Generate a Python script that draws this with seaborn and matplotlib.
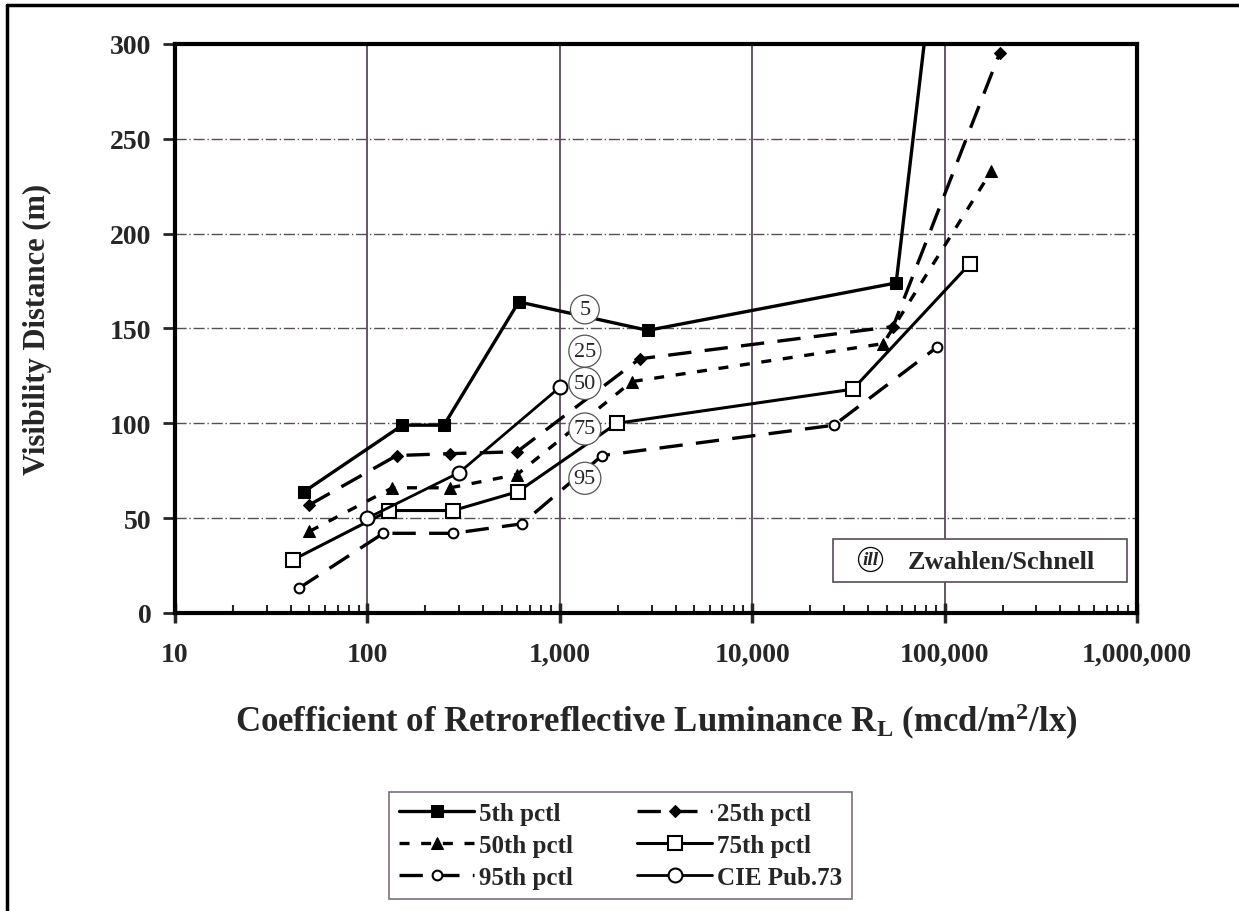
import numpy as np
import pandas as pd
import seaborn as sns
import matplotlib.pyplot as plt
from matplotlib.patches import Rectangle
from matplotlib.lines import Line2D
from matplotlib.ticker import FixedLocator, LogLocator, NullFormatter

# values
rl_5 = [47, 152, 250, 612, 2870, 56000, 83000]
vd_5 = [64, 99, 99, 164, 149, 174, 322]
rl_25 = [50, 142, 270, 600, 2600, 54000, 193000]
vd_25 = [57, 83, 84, 85, 134, 151, 295]
rl_50 = [50, 135, 270, 600, 2370, 48000, 175000]
vd_50 = [43, 66, 66, 73, 122, 142, 233]
rl_75 = [41, 130, 279, 607, 1980, 33400, 135000]
vd_75 = [28, 54, 54, 64, 100, 118, 184]
rl_95 = [44, 121, 279, 635, 1660, 26600, 91000]
vd_95 = [13, 42, 42, 47, 83, 99, 140]
rl_cie = [100, 300, 1000]
vd_cie = [50, 74, 119]

labels = ['5th pctl', '25th pctl', '50th pctl', '75th pctl', '95th pctl', 'CIE Pub.73']
tag_text = ['5', '25', '50', '75', '95']
tag_y = [160, 138, 121, 97, 71]
tag_x = 1350

xticks = [10, 100, 1000, 10000, 100000, 1000000]
xtick_labels = ['10', '100', '1,000', '10,000', '100,000', '1,000,000']
yticks = [0, 50, 100, 150, 200, 250, 300]

sns.set_style('white')
plt.rcParams['font.family'] = ['Liberation Serif', 'DejaVu Serif']
plt.rcParams['font.weight'] = 'bold'
plt.rcParams['mathtext.fontset'] = 'custom'
plt.rcParams['mathtext.rm'] = 'Liberation Serif:bold'
plt.rcParams['mathtext.bf'] = 'Liberation Serif:bold'
plt.rcParams['mathtext.it'] = 'Liberation Serif:bold'

fig = plt.figure(figsize=(12.39, 9.12), dpi=100)
ax = fig.add_axes([0.1412, 0.3268, 0.7765, 0.6239])

styles = [
    dict(marker='s', ms=9, mfc='black', mec='black', linestyle='-', lw=2.4),
    dict(marker='D', ms=6, mfc='black', mec='black', linestyle=(0, (7, 4)), lw=2.4),
    dict(marker='^', ms=8, mfc='black', mec='black', linestyle=(0, (3, 3.5)), lw=2.4),
    dict(marker='s', ms=10, mfc='white', mec='black', mew=1.5, linestyle='-', lw=2.2),
    dict(marker='o', ms=7, mfc='white', mec='black', mew=1.5, linestyle=(0, (7, 4)), lw=2.4),
    dict(marker='o', ms=10, mfc='white', mec='black', mew=1.5, linestyle='-', lw=2.0),
]
series = [(rl_5, vd_5), (rl_25, vd_25), (rl_50, vd_50), (rl_75, vd_75), (rl_95, vd_95), (rl_cie, vd_cie)]

for (xs, ys), lab, st in zip(series, labels, styles):
    d = pd.DataFrame({'RL': xs, 'VD': ys})
    sns.lineplot(data=d, x='RL', y='VD', ax=ax, sort=False, estimator=None,
                 color='black', label=lab, legend=False, zorder=3, **st)

for t, y in zip(tag_text, tag_y):
    ax.text(tag_x, y, t, ha='center', va='center', fontsize=16, fontweight='normal', zorder=5,
            bbox=dict(boxstyle='circle,pad=0.22', fc='white', ec='#555', lw=0.9))

ax.set_xscale('log')
ax.set_xlim(10, 1000000)
ax.set_ylim(0, 300)
ax.xaxis.set_major_locator(FixedLocator(xticks))
ax.set_xticklabels(xtick_labels)
ax.xaxis.set_minor_locator(LogLocator(base=10, subs=np.arange(2, 10)))
ax.xaxis.set_minor_formatter(NullFormatter())
ax.set_yticks(yticks)

ax.grid(axis='x', which='major', color='#4a3a4a', lw=1.2, linestyle='-')
ax.grid(axis='y', which='major', color='#5a4a5a', lw=1.0, linestyle=(0, (8, 2, 1, 2)))
for sp in ax.spines.values():
    sp.set_linewidth(3)
    sp.set_color('black')

ax.tick_params(axis='x', which='major', direction='inout', length=14, width=2.5, pad=14,
               labelsize=20, bottom=True)
ax.tick_params(axis='x', which='minor', direction='in', length=6, width=1.5, bottom=True)
ax.tick_params(axis='y', which='major', direction='out', length=9, width=2, pad=8,
               labelsize=20, left=True)
for lab in ax.get_xticklabels() + ax.get_yticklabels():
    lab.set_fontweight('bold')

ax.set_xlabel(r'Coefficient of Retroreflective Luminance R$_\mathrm{L}$ (mcd/m$^\mathrm{2}$/lx)',
              fontsize=25, fontweight='bold', labelpad=24)
ax.set_ylabel('Visibility Distance (m)', fontsize=22, fontweight='bold', labelpad=42)

# source box inside the axes
ax.add_patch(Rectangle((0.684, 0.054), 0.306, 0.076, transform=ax.transAxes,
                       fill=True, fc='white', ec='#5a4a5a', lw=1.2, zorder=4))
ax.text(0.723, 0.094, 'ill', transform=ax.transAxes, ha='center', va='center',
        fontsize=14, style='italic', zorder=5,
        bbox=dict(boxstyle='circle,pad=0.18', fc='white', ec='black', lw=0.9))
ax.text(0.762, 0.090, 'Zwahlen/Schnell', transform=ax.transAxes, ha='left', va='center',
        fontsize=19, fontweight='bold', zorder=5)

# legend below
handles = ax.get_lines()
hmap = {h.get_label(): h for h in handles}
order = ['5th pctl', '50th pctl', '95th pctl', '25th pctl', '75th pctl', 'CIE Pub.73']
leg = fig.legend([hmap[o] for o in order], order, loc='center',
                 bbox_to_anchor=(0.304, 0.011, 0.394, 0.122), mode='expand', ncol=2,
                 frameon=True, fancybox=False, edgecolor='#5a4a5a',
                 handlelength=3.0, handletextpad=0.2, borderpad=0.4, labelspacing=0.35,
                 prop={'weight': 'bold', 'size': 18})
leg.get_frame().set_linewidth(1.2)

# outer frame lines (top and left only)
fig.add_artist(Line2D([0.0056, 1.0], [0.9934, 0.9934], color='black', lw=2.5, transform=fig.transFigure))
fig.add_artist(Line2D([0.0056, 0.0056], [0.0, 0.9934], color='black', lw=2.5, transform=fig.transFigure))

fig.savefig('out.png', dpi=100)
